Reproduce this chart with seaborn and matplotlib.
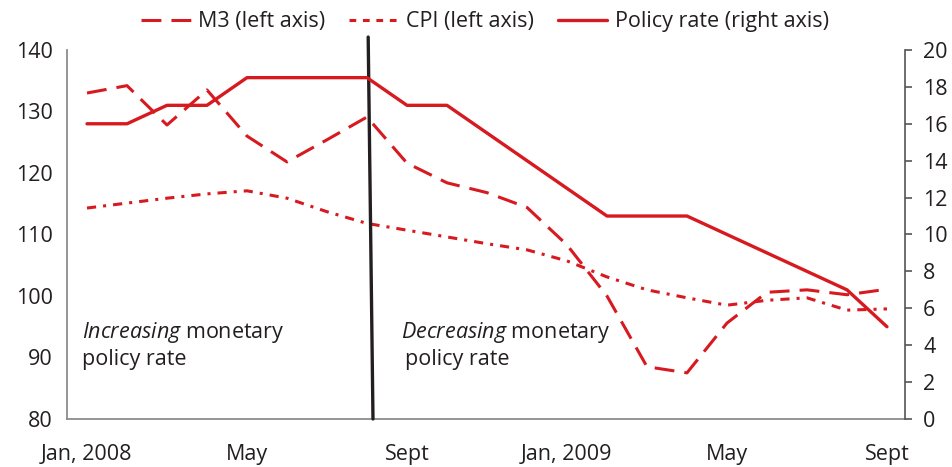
import pandas as pd
import matplotlib
matplotlib.use("Agg")
import matplotlib.pyplot as plt
from matplotlib.lines import Line2D
import seaborn as sns

# monthly data, Jan 2008 .. Sept 2009
months = list(range(21))
tick_months = [0, 4, 8, 12, 16, 20]
tick_labels = ["Jan, 2008", "May", "Sept", "Jan, 2009", "May", "Sept"]

m3 = [133.0, 134.2, 127.8, 133.5, 126.0, 121.8, 125.4, 129.1, 121.6, 118.4, 116.8,
      114.4, 108.3, 100.0, 88.5, 87.5, 95.6, 100.6, 101.0, 100.2, 101.1]
cpi = [114.3, 115.1, 115.9, 116.6, 117.1, 115.9, 113.7, 111.8, 110.7, 109.6, 108.5,
       107.5, 105.7, 103.1, 101.0, 99.7, 98.5, 99.3, 99.7, 97.7, 97.9]
policy = [16, 16, 17, 17, 18.5, 18.5, 18.5, 18.5, 17, 17, 15.5, 14, 12.5, 11, 11, 11,
          10, 9, 8, 7, 5]

RED = "#d71920"
TXT = "#231f20"
FS = 15.5

sns.set_style("white")
plt.rcParams["font.family"] = ["Open Sans", "DejaVu Sans"]
plt.rcParams["mathtext.fontset"] = "custom"
plt.rcParams["mathtext.rm"] = "Open Sans"
plt.rcParams["mathtext.it"] = "Open Sans:italic"
plt.rcParams["text.color"] = TXT

fig, ax = plt.subplots(figsize=(9.53, 4.67), dpi=100)
fig.subplots_adjust(left=0.0703, right=0.9496, bottom=0.1028, top=0.893)

# left axis: M3 and CPI
left_df = pd.DataFrame({
    "month": months * 2,
    "value": m3 + cpi,
    "series": ["M3 (left axis)"] * len(m3) + ["CPI (left axis)"] * len(cpi),
})
dash_styles = {"M3 (left axis)": (6.5, 3.3), "CPI (left axis)": (3, 2.3, 1, 2.3)}
sns.lineplot(data=left_df, x="month", y="value", hue="series", style="series",
             palette=[RED, RED], dashes=dash_styles, linewidth=2.2, ax=ax, legend=False)

# right axis: policy rate
ax2 = ax.twinx()
sns.lineplot(x=months, y=policy, color=RED, linewidth=2.4, ax=ax2)

ax.set_xlim(-0.5, 20.45)
ax.set_ylim(80, 140)
ax2.set_ylim(0, 20)
ax.set_xticks(tick_months, tick_labels)
ax.set_yticks(range(80, 141, 10))
ax2.set_yticks(range(0, 21, 2))
ax.set_xlabel("")
ax.set_ylabel("")
ax2.set_ylabel("")

for a in (ax, ax2):
    a.spines["top"].set_visible(False)
ax.spines["right"].set_visible(False)
ax.spines["left"].set_color("#8c8c8c")
ax.spines["bottom"].set_color("#8c8c8c")
ax.spines["left"].set_linewidth(1.3)
ax.spines["bottom"].set_linewidth(1.3)
ax2.spines["left"].set_visible(False)
ax2.spines["bottom"].set_visible(False)
ax2.spines["right"].set_color("#555555")
ax2.spines["right"].set_linewidth(1.2)

ax.tick_params(axis="x", length=0, pad=18, labelsize=FS, colors=TXT)
ax.tick_params(axis="y", length=0, pad=10, labelsize=FS, colors=TXT)
ax2.tick_params(axis="y", length=5, width=1.2, color="#555555", pad=8,
                labelsize=FS, labelcolor=TXT)

# divider between tightening and easing
divider_x = (7.03, 7.15)
divider_y = (142.1, 80)
ax.plot(divider_x, divider_y, color=TXT, linewidth=2.4, clip_on=False, zorder=5)

ax.text(-0.12, 94.1, r"$\mathit{Increasing}$ monetary", fontsize=FS, va="center")
ax.text(-0.12, 89.6, "policy rate", fontsize=FS, va="center")
ax.text(7.85, 94.1, r"$\mathit{Decreasing}$ monetary", fontsize=FS, va="center")
ax.text(7.95, 89.6, "policy rate", fontsize=FS, va="center")

handles = [
    Line2D([], [], color=RED, linewidth=2.2, dashes=dash_styles["M3 (left axis)"]),
    Line2D([], [], color=RED, linewidth=2.2, dashes=(2.2, 2.2)),
    Line2D([], [], color=RED, linewidth=2.4),
]
labels = ["M3 (left axis)", "CPI (left axis)", "Policy rate (right axis)"]
fig.legend(handles, labels, loc="center", bbox_to_anchor=(0.509, 0.953), ncol=3,
           frameon=False, fontsize=FS, handlelength=2.3, handletextpad=0.35,
           columnspacing=1.1)

fig.savefig("out.png", dpi=100)
